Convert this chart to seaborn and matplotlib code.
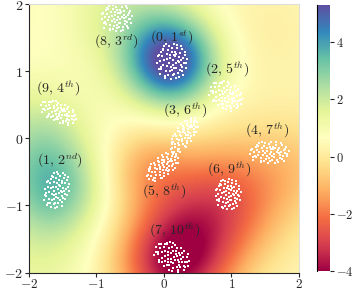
import numpy as np
import pandas as pd
import seaborn as sns
import matplotlib.pyplot as plt

# Campo di sfondo: somma di bump gaussiani (centri, ampiezze, larghezze)
bump_x = [0.10, -1.65, 0.15, 0.85, -0.25, -0.60, -1.90, 1.95, 1.50, -1.90]
bump_y = [1.15, -0.75, -1.85, -0.95, -0.45, 1.90, 0.10, -0.40, 1.60, -1.90]
bump_amp = [4.9, 2.6, -4.2, -2.8, -1.4, 1.2, 1.4, -0.9, -0.3, 0.8]
bump_sig = [0.48, 0.52, 0.58, 0.65, 0.45, 0.60, 0.55, 0.55, 0.60, 0.60]
field_base = 0.5

# Cluster: etichette e geometria
cluster_k = [0, 1, 8, 9, 2, 3, 4, 5, 6, 7]
cluster_rank = ["1^{st}", "2^{nd}", "3^{rd}", "4^{th}", "5^{th}",
                "6^{th}", "7^{th}", "8^{th}", "9^{th}", "10^{th}"]
cluster_cx = [0.12, -1.59, -0.70, -1.56, 0.92, 0.30, 1.56, -0.02, 0.95, 0.12]
cluster_cy = [1.15, -0.77, 1.80, 0.39, 0.64, 0.05, -0.21, -0.42, -0.83, -1.76]
cluster_sx = [0.24, 0.19, 0.24, 0.30, 0.28, 0.32, 0.31, 0.30, 0.20, 0.30]
cluster_sy = [0.28, 0.29, 0.22, 0.15, 0.20, 0.14, 0.17, 0.15, 0.24, 0.20]
cluster_ang = [0, -15, 0, -25, -35, 55, 0, 40, 0, -35]
label_x = [0.12, -1.54, -0.70, -1.56, 0.93, 0.31, 1.53, 0.00, 0.96, 0.16]
label_y = [1.50, -0.34, 1.44, 0.74, 1.02, 0.41, 0.12, -0.79, -0.46, -1.37]

# Offset dei punti nel disco unitario (stesso schema per ogni cluster)
off_x = [-0.82, -0.65, -0.58, -0.47, -0.41, -0.33, -0.29, -0.21, -0.15, -0.12,
         -0.05, 0.02, 0.04, 0.11, 0.15, 0.19, 0.24, 0.31, 0.36, 0.42,
         0.47, 0.53, 0.58, 0.63, 0.69, 0.75, 0.81, 0.86, 0.93, -0.92,
         -0.75, -0.71, -0.53, -0.38, -0.25, -0.02, 0.08, 0.27, 0.44, 0.56,
         0.70, 0.12, -0.35, -0.88, -0.60, -0.18, 0.33, 0.50, -0.40, 0.20,
         -0.10, 0.62, -0.78, 0.38, -0.50, 0.00, 0.78, -0.25, 0.28, -0.65,
         -0.30, 0.10, 0.45, -0.55, 0.65, -0.08, 0.22, -0.70, 0.85, 0.05]
off_y = [0.31, -0.42, 0.62, 0.05, -0.78, 0.38, -0.24, 0.83, -0.55, 0.16,
         -0.93, 0.51, -0.18, 0.92, -0.66, 0.27, -0.38, 0.68, 0.02, -0.85,
         0.43, -0.22, 0.79, -0.55, 0.18, -0.08, 0.47, -0.35, 0.12, -0.12,
         -0.68, 0.02, -0.19, -0.52, 0.60, 0.72, 0.05, -0.91, 0.20, 0.05,
         -0.72, -0.35, 0.90, 0.25, 0.25, -0.08, 0.88, -0.45, -0.88, 0.50,
         0.35, 0.62, -0.40, -0.62, 0.80, -0.48, 0.30, -0.75, 0.40, 0.48,
         0.12, 0.30, -0.05, 0.58, -0.30, -0.30, -0.10, -0.30, -0.10, -0.72]

ticks_main = [-2, -1, 0, 1, 2]
ticks_cbar = [-4, -2, 0, 2, 4]
vmin, vmax = -4.0, 5.3

sns.set_style("ticks")
plt.rcParams["font.family"] = ["DejaVu Serif"]
plt.rcParams["mathtext.fontset"] = "cm"

# Griglia del campo
gx, gy = np.meshgrid(np.linspace(-2, 2, 300), np.linspace(-2, 2, 300))
field = np.full_like(gx, field_base)
for bx, by, a, s in zip(bump_x, bump_y, bump_amp, bump_sig):
    field += a * np.exp(-((gx - bx) ** 2 + (gy - by) ** 2) / (2 * s ** 2))

# Punti dei cluster
rows = []
for i in range(len(cluster_k)):
    t = np.deg2rad(cluster_ang[i])
    for ox, oy in zip(off_x, off_y):
        px = ox * cluster_sx[i]
        py = oy * cluster_sy[i]
        rows.append({"x": cluster_cx[i] + px * np.cos(t) - py * np.sin(t),
                     "y": cluster_cy[i] + px * np.sin(t) + py * np.cos(t),
                     "k": cluster_k[i]})
pts = pd.DataFrame(rows)

fig = plt.figure(figsize=(3.52, 2.90), dpi=100)
ax = fig.add_axes([0.082, 0.060, 0.767, 0.926])
cax = fig.add_axes([0.901, 0.064, 0.037, 0.919])

im = ax.imshow(field, extent=[-2, 2, -2, 2], origin="lower", cmap="Spectral",
               vmin=vmin, vmax=vmax, aspect="auto", interpolation="bilinear")
sns.scatterplot(data=pts, x="x", y="y", color="white", s=4, linewidth=0,
                marker="s", ax=ax, legend=False)

for i in range(len(cluster_k)):
    ax.text(label_x[i], label_y[i], rf"$({cluster_k[i]},\,{cluster_rank[i]})$",
            ha="center", va="center", fontsize=10)

ax.set_xlim(-2, 2)
ax.set_ylim(-2, 2)
ax.set_xlabel("")
ax.set_ylabel("")
ax.set_xticks(ticks_main)
ax.set_yticks(ticks_main)
ax.set_xticklabels([rf"${t}$" for t in ticks_main], fontsize=9.5)
ax.set_yticklabels([rf"${t}$" for t in ticks_main], fontsize=10)
ax.tick_params(length=3, width=0.8, pad=1)
for side in ["top", "right"]:
    ax.spines[side].set_color("#dddddd")

cb = fig.colorbar(im, cax=cax)
cb.set_ticks(ticks_cbar)
cb.set_ticklabels([rf"${t}$" for t in ticks_cbar])
cax.tick_params(labelsize=9, length=3, width=0.8, pad=1)
cb.outline.set_visible(False)
cax.spines["left"].set_visible(True)
cax.spines["left"].set_color("black")

fig.savefig("out.png", dpi=100)
